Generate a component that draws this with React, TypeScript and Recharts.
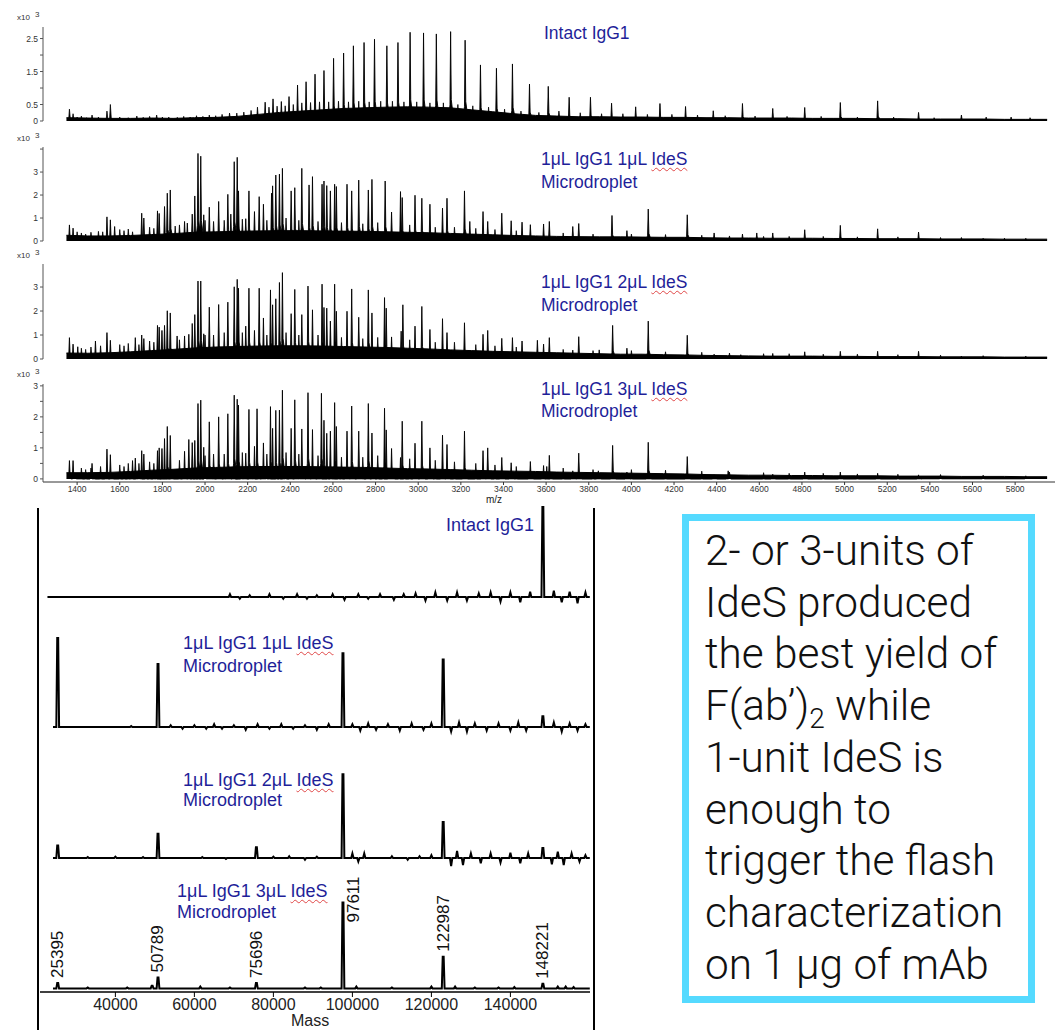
import React from "react";
import { ComposedChart, Area, Line, Scatter, XAxis, YAxis } from "recharts";

// ---- m/z spectra (top) ----
const mzGrid = [1350, 1450, 1550, 1650, 1750, 1850, 1950, 2050, 2150, 2250, 2350, 2450, 2550, 2650, 2750, 2850, 2950, 3050, 3150, 3250, 3350, 3450, 3550, 3650, 3750, 3850, 3950, 4050, 4150, 4250, 4350, 4450, 4550, 4650, 4750, 4850, 4950, 5050, 5150, 5250, 5350, 5450, 5550, 5650, 5750, 5850, 5950];

const baseIntact = [0.1, 0.09, 0.08, 0.08, 0.09, 0.08, 0.1, 0.11, 0.14, 0.2, 0.26, 0.3, 0.34, 0.38, 0.4, 0.42, 0.43, 0.42, 0.4, 0.34, 0.28, 0.22, 0.17, 0.15, 0.13, 0.13, 0.12, 0.12, 0.11, 0.11, 0.1, 0.1, 0.09, 0.09, 0.09, 0.08, 0.08, 0.08, 0.07, 0.07, 0.06, 0.06, 0.06, 0.06, 0.05, 0.05, 0.05];
const base1uL = [0.25, 0.22, 0.22, 0.24, 0.28, 0.32, 0.38, 0.4, 0.42, 0.44, 0.45, 0.45, 0.44, 0.43, 0.42, 0.4, 0.38, 0.36, 0.33, 0.3, 0.27, 0.24, 0.22, 0.2, 0.19, 0.18, 0.18, 0.17, 0.16, 0.16, 0.14, 0.13, 0.13, 0.12, 0.12, 0.12, 0.11, 0.11, 0.1, 0.1, 0.1, 0.09, 0.09, 0.09, 0.08, 0.08, 0.08];
const base2uL = [0.25, 0.24, 0.26, 0.3, 0.35, 0.4, 0.46, 0.5, 0.52, 0.54, 0.55, 0.55, 0.54, 0.52, 0.5, 0.48, 0.45, 0.42, 0.38, 0.35, 0.32, 0.3, 0.28, 0.26, 0.24, 0.22, 0.2, 0.2, 0.18, 0.17, 0.15, 0.14, 0.13, 0.12, 0.12, 0.12, 0.11, 0.11, 0.1, 0.1, 0.1, 0.09, 0.09, 0.09, 0.08, 0.08, 0.08];
const base3uL = [0.2, 0.2, 0.21, 0.24, 0.28, 0.31, 0.35, 0.37, 0.39, 0.4, 0.4, 0.4, 0.39, 0.38, 0.37, 0.35, 0.33, 0.32, 0.3, 0.28, 0.26, 0.25, 0.24, 0.22, 0.21, 0.2, 0.19, 0.18, 0.17, 0.16, 0.14, 0.13, 0.12, 0.12, 0.11, 0.11, 0.1, 0.1, 0.1, 0.09, 0.09, 0.09, 0.08, 0.08, 0.08, 0.07, 0.07];

const peaksIntact = [[2282, 0.57], [2319, 0.67], [2358, 0.59], [2394, 0.74], [2434, 1.09], [2474, 1.19], [2516, 1.42], [2558, 1.53], [2603, 1.9], [2650, 2.06], [2696, 2.28], [2746, 2.38], [2795, 2.48], [2853, 2.28], [2905, 2.38], [2962, 2.69], [3025, 2.67], [3085, 2.64], [3152, 2.71], [3220, 2.45], [3292, 1.7], [3367, 1.6], [3442, 1.73], [3522, 1.12], [3610, 1.05], [3708, 0.72], [3808, 0.72], [3907, 0.54], [4020, 0.43], [4134, 0.53], [4254, 0.44], [4384, 0.31], [4521, 0.53], [4663, 0.38], [4813, 0.41], [4980, 0.56], [5155, 0.61], [5347, 0.26], [5548, 0.18]];
const minorIntact = [[1364, 0.36], [1381, 0.22], [1400, 0.12], [1420, 0.15], [1445, 0.1], [1470, 0.18], [1500, 0.12], [1540, 0.3], [1556, 0.5], [1600, 0.12], [1640, 0.1], [1680, 0.15], [1710, 0.11], [1740, 0.14], [1773, 0.18], [1800, 0.12], [1830, 0.12], [1870, 0.11], [1900, 0.14], [1930, 0.12], [1960, 0.16], [1990, 0.14], [2020, 0.18], [2050, 0.16], [2080, 0.2], [2115, 0.24], [2149, 0.24], [2182, 0.27], [2216, 0.32], [2246, 0.42], [2300, 0.42], [2338, 0.45], [2376, 0.46], [2414, 0.5], [2454, 0.55], [2495, 0.56], [2537, 0.58], [2580, 0.58], [2626, 0.6], [2673, 0.58], [2721, 0.6], [2770, 0.58], [2824, 0.6], [2879, 0.6], [2933, 0.58], [2993, 0.58], [3055, 0.55], [3118, 0.55], [3186, 0.5], [3256, 0.46], [3330, 0.42], [3405, 0.36], [3482, 0.3], [3566, 0.26], [3660, 0.3], [3760, 0.25], [3860, 0.22], [3960, 0.22], [4075, 0.2], [4190, 0.2], [4310, 0.18], [4440, 0.16], [4580, 0.15], [4730, 0.14], [4890, 0.14], [5060, 0.12], [5230, 0.12], [5420, 0.1], [5664, 0.12], [5781, 0.12], [5870, 0.1]];

const peaks1uL = [[1364, 0.7], [1381, 0.56], [1540, 1.05], [1556, 0.92], [1576, 0.63], [1703, 1.21], [1713, 1.0], [1777, 1.31], [1785, 1.2], [1810, 1.5], [1823, 2.08], [1837, 2.22], [1904, 0.85], [1917, 0.78], [1940, 1.17], [1952, 1.96], [1967, 3.81], [1980, 3.69], [1994, 1.14], [2020, 1.47], [2064, 1.72], [2107, 2.03], [2121, 1.17], [2137, 3.45], [2151, 3.64], [2157, 2.18], [2191, 0.97], [2206, 2.18], [2232, 1.28], [2254, 1.93], [2274, 1.6], [2312, 2.08], [2317, 2.4], [2332, 2.87], [2349, 2.91], [2363, 3.16], [2404, 2.18], [2421, 2.32], [2454, 3.16], [2488, 2.44], [2504, 2.8], [2549, 2.47], [2558, 2.61], [2571, 2.41], [2588, 2.18], [2608, 2.47], [2616, 2.37], [2666, 2.47], [2688, 2.18], [2721, 2.65], [2766, 2.22], [2783, 2.68], [2845, 2.61], [2875, 1.26], [2917, 2.15], [2925, 1.89], [2985, 1.99], [3017, 1.86], [3055, 1.6], [3114, 1.43], [3135, 1.86], [3217, 2.18], [3242, 0.85], [3304, 1.28], [3326, 0.85], [3392, 1.21], [3436, 0.88], [3487, 0.82], [3526, 0.71], [3588, 0.74], [3615, 0.85], [3725, 0.63], [3753, 0.76], [3909, 1.11], [3979, 0.45], [4079, 1.39], [4262, 1.14], [4388, 0.35], [4521, 0.3], [4588, 0.35], [4663, 0.35], [4813, 0.49], [4980, 0.68], [5155, 0.53], [5347, 0.39], [5548, 0.15], [5750, 0.12]];
const minor1uL = [[1400, 0.4], [1420, 0.35], [1440, 0.3], [1465, 0.38], [1500, 0.42], [1520, 0.4], [1600, 0.5], [1620, 0.45], [1640, 0.52], [1660, 0.4], [1740, 0.6], [1760, 0.55], [1860, 0.65], [1880, 0.7], [2000, 0.9], [2040, 0.85], [2090, 0.9], [2175, 0.95], [2290, 0.9], [2380, 1.0], [2440, 0.9], [2530, 0.85], [2640, 0.8], [2740, 0.75], [2810, 0.8], [2960, 0.7], [3080, 0.6], [3170, 0.6], [3270, 0.55], [3360, 0.5], [3460, 0.45], [3680, 0.35], [3820, 0.3], [4000, 0.3], [4160, 0.28], [4330, 0.25], [4460, 0.22], [4620, 0.2], [4740, 0.2], [4900, 0.2], [5060, 0.18], [5250, 0.18], [5450, 0.15], [5650, 0.12], [5850, 0.12]];

const peaks2uL = [[1364, 0.89], [1381, 0.62], [1403, 0.51], [1486, 0.75], [1540, 1.1], [1556, 0.78], [1673, 0.89], [1703, 1.0], [1713, 0.85], [1777, 1.4], [1785, 1.33], [1798, 1.19], [1810, 1.4], [1823, 2.01], [1837, 1.92], [1869, 0.96], [1904, 0.96], [1924, 1.03], [1940, 1.48], [1952, 1.85], [1967, 3.25], [1980, 3.25], [1994, 1.05], [2020, 2.16], [2064, 2.27], [2107, 2.37], [2137, 3.01], [2151, 3.32], [2157, 2.95], [2191, 1.37], [2206, 2.95], [2232, 1.19], [2254, 2.95], [2274, 1.71], [2307, 2.88], [2317, 2.26], [2332, 2.51], [2349, 3.19], [2363, 3.6], [2404, 1.89], [2421, 2.9], [2454, 1.85], [2483, 3.04], [2504, 2.05], [2549, 3.12], [2558, 2.15], [2571, 2.12], [2588, 1.58], [2608, 3.12], [2616, 1.99], [2666, 1.99], [2688, 2.92], [2721, 1.74], [2766, 2.88], [2783, 1.92], [2842, 2.56], [2850, 2.12], [2875, 0.92], [2920, 1.16], [2928, 2.26], [2985, 1.37], [3017, 2.19], [3055, 1.23], [3114, 1.68], [3135, 1.1], [3217, 1.51], [3304, 1.03], [3326, 1.19], [3392, 0.86], [3442, 0.89], [3487, 0.75], [3559, 0.78], [3588, 0.62], [3615, 0.89], [3725, 0.37], [3753, 0.93], [3849, 0.38], [3912, 1.4], [3979, 0.45], [4079, 1.58], [4262, 0.99], [4388, 0.2], [4513, 0.18], [4663, 0.23], [4813, 0.3], [4980, 0.32], [5155, 0.32], [5347, 0.32], [5548, 0.12]];
const minor2uL = [[1420, 0.45], [1440, 0.4], [1465, 0.5], [1510, 0.55], [1600, 0.6], [1620, 0.55], [1640, 0.65], [1690, 0.6], [1740, 0.75], [1760, 0.7], [1880, 0.8], [2000, 1.0], [2040, 1.0], [2090, 1.1], [2175, 1.1], [2290, 1.0], [2380, 1.1], [2440, 1.0], [2530, 1.0], [2640, 0.9], [2740, 0.85], [2810, 0.9], [2960, 0.8], [3080, 0.7], [3170, 0.7], [3270, 0.6], [3360, 0.55], [3460, 0.5], [3680, 0.4], [3820, 0.35], [4000, 0.35], [4160, 0.3], [4330, 0.28], [4460, 0.25], [4620, 0.22], [4740, 0.22], [4900, 0.2], [5060, 0.2], [5250, 0.18], [5450, 0.16], [5650, 0.14], [5850, 0.12]];

const peaks3uL = [[1364, 0.59], [1381, 0.59], [1470, 0.5], [1540, 0.96], [1556, 0.78], [1660, 0.59], [1673, 0.67], [1703, 0.91], [1713, 0.8], [1777, 0.91], [1785, 1.0], [1798, 0.98], [1810, 1.3], [1823, 1.69], [1837, 1.4], [1904, 0.89], [1924, 1.27], [1940, 1.17], [1952, 1.24], [1967, 2.43], [1980, 2.54], [1994, 1.02], [2020, 1.84], [2064, 2.0], [2107, 2.1], [2137, 2.7], [2151, 2.57], [2157, 2.38], [2191, 0.83], [2206, 2.24], [2232, 1.05], [2244, 2.26], [2274, 1.16], [2307, 2.33], [2317, 1.63], [2332, 2.21], [2349, 2.22], [2363, 2.86], [2404, 1.63], [2421, 2.55], [2454, 1.61], [2483, 2.78], [2504, 1.59], [2546, 2.76], [2558, 1.89], [2571, 1.47], [2588, 1.54], [2608, 2.46], [2616, 1.69], [2666, 1.54], [2688, 2.35], [2721, 1.54], [2766, 2.43], [2783, 1.48], [2842, 2.28], [2850, 1.58], [2875, 0.98], [2917, 0.69], [2925, 1.86], [2985, 1.15], [3017, 1.86], [3055, 1.0], [3114, 1.41], [3135, 1.11], [3217, 1.54], [3304, 0.91], [3326, 1.0], [3392, 0.69], [3436, 0.52], [3526, 0.56], [3588, 0.43], [3603, 0.4], [3615, 0.76], [3725, 0.26], [3753, 0.83], [3845, 0.26], [3912, 1.08], [3979, 0.22], [4079, 1.18], [4262, 0.72], [4388, 0.13], [4454, 0.26], [4663, 0.15], [4813, 0.22], [4980, 0.22], [5155, 0.18], [5347, 0.13]];
const minor3uL = [[1420, 0.35], [1440, 0.3], [1465, 0.35], [1510, 0.4], [1600, 0.45], [1620, 0.4], [1640, 0.5], [1690, 0.5], [1740, 0.55], [1760, 0.5], [1880, 0.6], [2000, 0.75], [2040, 0.8], [2090, 0.8], [2175, 0.85], [2290, 0.8], [2380, 0.85], [2440, 0.8], [2530, 0.75], [2640, 0.7], [2740, 0.7], [2810, 0.75], [2960, 0.65], [3080, 0.6], [3170, 0.55], [3270, 0.5], [3360, 0.45], [3460, 0.4], [3680, 0.35], [3820, 0.3], [4000, 0.3], [4160, 0.28], [4330, 0.25], [4460, 0.22], [4620, 0.2], [4740, 0.18], [4900, 0.18], [5060, 0.16], [5250, 0.15], [5450, 0.14], [5650, 0.12], [5850, 0.1]];

const mzTicks = [1400, 1600, 1800, 2000, 2200, 2400, 2600, 2800, 3000, 3200, 3400, 3600, 3800, 4000, 4200, 4400, 4600, 4800, 5000, 5200, 5400, 5600, 5800];

// ---- deconvoluted mass spectra (bottom left) ----
const massTicks = [40000, 60000, 80000, 100000, 120000, 140000];
const massPeaksIntact = [[148221, 100]];
const massPeaks1uL = [[25395, 99], [50789, 70], [97611, 82], [122987, 75], [148221, 12]];
const massPeaks2uL = [[25395, 14], [50789, 27], [75696, 12], [97611, 93], [122987, 40], [148221, 11]];
const massPeaks3uL = [[25395, 6], [49300, 3], [50789, 12], [75696, 6], [97611, 95], [122987, 35], [148221, 5]];
const labeledMasses = [25395, 50789, 75696, 97611, 122987, 148221];

const noiseIntact = [[69000, 3], [71500, -2], [74000, 2], [79000, 3], [82500, -2], [86000, 3], [88500, -2], [91000, 2], [95000, 3], [98000, -3], [101500, 3], [104000, -2], [107000, 3], [110500, -3], [113000, 3], [116000, 4], [118500, -4], [121000, 5], [124000, -4], [126500, 5], [129000, -4], [132000, 4], [135000, 5], [137500, -5], [140000, 5], [142500, -6], [145000, 6], [151000, 7], [153000, -6], [155000, 6], [157000, -7], [159000, 5]];
const noise1uL = [[44000, 1], [54000, 2], [57000, -2], [60000, 2], [63000, -2], [65000, 3], [67000, -2], [70000, 2], [73000, -3], [76000, 3], [79000, -2], [82000, 3], [85000, -2], [88000, 2], [91000, -3], [94000, 3], [100000, 3], [102000, -4], [104000, 4], [106000, -3], [109000, 3], [112000, -4], [115000, 4], [118000, -3], [120000, 4], [125000, -5], [127000, 5], [129000, -5], [131000, 4], [134000, -4], [137000, 4], [140000, -4], [142000, 5], [144000, -4], [151000, 5], [153000, -5], [155000, 4], [157000, -4], [159000, 3]];
const noise2uL = [[33000, 1], [40000, 1.5], [47000, 1], [62000, 1], [68000, -1], [80000, 1.5], [84000, 2], [88000, -2], [91000, 1.5], [100000, 5], [101500, -4], [103000, 5], [110000, 2], [114000, -2], [117000, 2], [120000, 3], [125000, -9], [126500, 8], [128000, -8], [130000, 5], [132500, -6], [135000, 5], [137500, -5], [140000, 6], [142500, -6], [144500, 5], [150500, -7], [152000, 7], [153500, -8], [155500, 5], [157500, -4], [159000, 3]];
const noise3uL = [[33000, 1], [43000, 1], [61500, 2], [69000, 1], [88000, 1], [92000, 1], [101000, 2], [110000, 1], [120000, 2], [126000, 2], [131000, 1], [137000, 1], [141000, 1.5], [152000, 2], [154000, 2], [156000, 1.5]];

const BLUE = "#1f1f99";
const FONT = '"Liberation Sans", Arial, sans-serif';
const MZ_DOMAIN = [1240, 5987];
const MASS_DOMAIN = [20914, 160154];

// thin spikes for minor noise peaks
function spikes(list: number[][], left: number, right: number) {
  return list
    .slice()
    .sort((a, b) => a[0] - b[0])
    .flatMap(([m, h]) => [
      { m: m - left, v: 0 },
      { m, v: h },
      { m: m + right, v: 0 },
    ]);
}

// main charge-state peaks get a broader foot, like the raw profile
function footedPeaks(list: number[][]) {
  return list
    .slice()
    .sort((a, b) => a[0] - b[0])
    .flatMap(([m, h]) => [
      { m: m - 10, v: 0 },
      { m: m - 3, v: h * 0.18 },
      { m, v: h },
      { m: m + 3, v: h * 0.24 },
      { m: m + 15, v: 0 },
    ]);
}

function massTrace(start: number, end: number, peaks: number[][], noise: number[][]) {
  const pts: { m: number; v: number }[] = [{ m: start, v: 0 }, { m: end, v: 0 }];
  peaks.forEach(([m, h]) => {
    pts.push({ m: m - 350, v: 0 }, { m: m - 120, v: h }, { m: m + 120, v: h }, { m: m + 350, v: 0 });
  });
  noise.forEach(([m, h]) => {
    pts.push({ m: m - 300, v: 0 }, { m, v: h }, { m: m + 300, v: 0 });
  });
  return pts.sort((a, b) => a.m - b.m);
}

function Ides({ text }: { text: string }) {
  const parts = text.split("IdeS");
  if (parts.length === 1) return <>{text}</>;
  return (
    <>
      {parts[0]}
      <span style={{ textDecoration: "underline wavy #e04848", textDecorationThickness: "1px", textUnderlineOffset: "2px" }}>IdeS</span>
      {parts[1]}
    </>
  );
}

function SampleLabel({ left, top, lines, size, lh }: { left: number; top: number; lines: string[]; size: number; lh: number }) {
  return (
    <div style={{ position: "absolute", left, top, color: BLUE, fontSize: size, lineHeight: `${lh}px`, fontFamily: FONT, whiteSpace: "nowrap" }}>
      {lines.map((l, i) => (
        <div key={i}>
          <Ides text={l} />
        </div>
      ))}
    </div>
  );
}

function Scale({ top }: { top: number }) {
  return (
    <div style={{ position: "absolute", left: 17, top, fontSize: 8, color: "#333", fontFamily: FONT }}>
      x10<span style={{ position: "relative", top: -3, marginLeft: 5 }}>3</span>
    </div>
  );
}

function MzPanel(props: any) {
  const { top, height, mt, mb, yDomain, ticks, shown, base, peaks, minor, axis } = props;
  const baseData = mzGrid.map((m, i) => ({ m, v: base[i] }));
  const peakData = footedPeaks(peaks);
  const minorData = spikes(minor, 4, 5);
  return (
    <div style={{ position: "absolute", left: 0, top }}>
      <ComposedChart width={1061} height={height} margin={{ top: mt, right: 6, bottom: mb, left: 8 }}>
        <XAxis
          type="number"
          dataKey="m"
          domain={MZ_DOMAIN}
          allowDataOverflow
          hide={!axis}
          ticks={mzTicks}
          interval={0}
          height={20}
          tickSize={3}
          tickMargin={1}
          axisLine={{ stroke: "#333" }}
          tickLine={{ stroke: "#333" }}
          tick={{ fontSize: 8.5, fill: "#333", fontFamily: FONT }}
        />
        <YAxis
          type="number"
          domain={yDomain}
          allowDataOverflow
          ticks={ticks}
          interval={0}
          width={35}
          tickSize={3}
          tickMargin={2}
          axisLine={{ stroke: "#555" }}
          tickLine={{ stroke: "#555" }}
          tick={{ fontSize: 8.5, fill: "#333", fontFamily: FONT }}
          tickFormatter={(v: number) => (shown.includes(v) ? String(v) : "")}
        />
        <Area data={baseData} dataKey="v" type="linear" stroke="#000" strokeWidth={1} fill="#000" fillOpacity={1} baseValue={0} dot={false} activeDot={false} isAnimationActive={false} />
        <Area data={minorData} dataKey="v" type="linear" stroke="#000" strokeWidth={0.8} fill="#000" fillOpacity={1} baseValue={0} dot={false} activeDot={false} isAnimationActive={false} />
        <Area data={peakData} dataKey="v" type="linear" stroke="#000" strokeWidth={0.9} fill="#000" fillOpacity={1} baseValue={0} dot={false} activeDot={false} isAnimationActive={false} />
      </ComposedChart>
    </div>
  );
}

const MassTag = (props: any) => {
  const { cx, cy, payload } = props;
  if (cx == null || cy == null) return null;
  const side = payload.v > 50;
  const x = side ? cx + 11 : cx;
  const y = side ? cy + 20 : cy - 5;
  return (
    <text x={x} y={y} transform={`rotate(-90 ${x} ${y})`} fontSize={17} fill="#111" fontFamily={FONT} dominantBaseline="central" textAnchor="start">
      {String(payload.m)}
    </text>
  );
};

function MassPanel(props: any) {
  const { top, height, mt, mb, yDomain, data, axis, tags } = props;
  return (
    <div style={{ position: "absolute", left: 0, top }}>
      <ComposedChart width={600} height={height} margin={{ top: mt, right: 10, bottom: mb, left: 40 }}>
        <XAxis
          type="number"
          dataKey="m"
          domain={MASS_DOMAIN}
          hide={!axis}
          ticks={massTicks}
          interval={0}
          height={38}
          tickSize={5}
          tickMargin={2}
          axisLine={{ stroke: "#000", strokeWidth: 1.5 }}
          tickLine={{ stroke: "#000" }}
          tick={{ fontSize: 16, fill: "#222", fontFamily: FONT }}
        />
        <YAxis type="number" domain={yDomain} hide />
        <Line data={data} dataKey="v" type="linear" stroke="#000" strokeWidth={2} dot={false} activeDot={false} isAnimationActive={false} />
        {tags && <Scatter data={tags} dataKey="v" shape={MassTag} isAnimationActive={false} />}
      </ComposedChart>
    </div>
  );
}

export default function App() {
  const tags3uL = massPeaks3uL.filter(([m]) => labeledMasses.includes(m)).map(([m, v]) => ({ m, v }));
  return (
    <div style={{ position: "absolute", left: 0, top: 0, width: 1061, height: 1030, background: "#fff", overflow: "hidden", fontFamily: FONT }}>
      {/* m/z spectra */}
      <MzPanel top={0} height={130} mt={27} mb={9} yDomain={[0, 2.85]} ticks={[0, 0.5, 1, 1.5, 2, 2.5]} shown={[0, 0.5, 1.5, 2.5]} base={baseIntact} peaks={peaksIntact} minor={minorIntact} />
      <MzPanel top={130} height={120} mt={17} mb={9} yDomain={[0, 4.09]} ticks={[0, 1, 2, 3, 4]} shown={[0, 1, 2, 3]} base={base1uL} peaks={peaks1uL} minor={minor1uL} />
      <MzPanel top={250} height={118} mt={14} mb={9} yDomain={[0, 3.96]} ticks={[0, 1, 2, 3]} shown={[0, 1, 2, 3]} base={base2uL} peaks={peaks2uL} minor={minor2uL} />
      <MzPanel top={370} height={140} mt={14} mb={8} yDomain={[-0.1, 3.06]} ticks={[0, 0.5, 1, 1.5, 2, 2.5, 3]} shown={[0, 1, 2, 3]} base={base3uL} peaks={peaks3uL} minor={minor3uL} axis />

      <Scale top={13} />
      <Scale top={134} />
      <Scale top={251} />
      <Scale top={370} />
      <div style={{ position: "absolute", left: 486, top: 494, fontSize: 10, color: "#222", fontFamily: FONT }}>m/z</div>

      <SampleLabel left={544} top={22} lines={["Intact IgG1"]} size={17.5} lh={23} />
      <SampleLabel left={541} top={148} lines={["1μL IgG1 1μL IdeS", "Microdroplet"]} size={17.5} lh={23} />
      <SampleLabel left={541} top={271} lines={["1μL IgG1 2μL IdeS", "Microdroplet"]} size={17.5} lh={23} />
      <SampleLabel left={541} top={378} lines={["1μL IgG1 3μL IdeS", "Microdroplet"]} size={17.5} lh={22} />

      {/* deconvoluted masses */}
      <div style={{ position: "absolute", left: 37, top: 508, width: 2, height: 522, background: "#000" }} />
      <div style={{ position: "absolute", left: 593, top: 508, width: 2, height: 522, background: "#000" }} />
      <MassPanel top={500} height={110} mt={7} mb={4} yDomain={[-10, 100]} data={massTrace(22800, 160100, massPeaksIntact, noiseIntact)} />
      <MassPanel top={630} height={110} mt={7} mb={4} yDomain={[-10, 100]} data={massTrace(24200, 160100, massPeaks1uL, noise1uL)} />
      <MassPanel top={761} height={110} mt={7} mb={4} yDomain={[-10, 100]} data={massTrace(24200, 160100, massPeaks2uL, noise2uL)} />
      <MassPanel top={870} height={160} mt={28} mb={0} yDomain={[-4, 100]} data={massTrace(24200, 160100, massPeaks3uL, noise3uL)} axis tags={tags3uL} />
      <div style={{ position: "absolute", left: 291, top: 1012, fontSize: 16, color: "#222", fontFamily: FONT }}>Mass</div>

      <SampleLabel left={446} top={515} lines={["Intact IgG1"]} size={18} lh={21} />
      <SampleLabel left={183} top={632} lines={["1μL IgG1 1μL IdeS", "Microdroplet"]} size={18} lh={23} />
      <SampleLabel left={183} top={770} lines={["1μL IgG1 2μL IdeS", "Microdroplet"]} size={18} lh={20} />
      <SampleLabel left={177} top={881} lines={["1μL IgG1 3μL IdeS", "Microdroplet"]} size={18} lh={21} />

      {/* summary box */}
      <div style={{ position: "absolute", left: 682, top: 514, width: 353, height: 489, boxSizing: "border-box", border: "7px solid #55DAFF" }} />
      <div style={{ position: "absolute", left: 705, top: 525, fontFamily: "Roboto, sans-serif", fontWeight: 300, fontSize: 42.3, lineHeight: "51.7px", color: "#111", whiteSpace: "nowrap" }}>
        <div>2- or 3-units of</div>
        <div>IdeS produced</div>
        <div>the best yield of</div>
        <div>
          F(ab’)<span style={{ fontSize: 28, verticalAlign: "-0.3em", lineHeight: 0 }}>2</span> while
        </div>
        <div>1-unit IdeS is</div>
        <div>enough to</div>
        <div>trigger the flash</div>
        <div>characterization</div>
        <div>on 1 µg of mAb</div>
      </div>
    </div>
  );
}
